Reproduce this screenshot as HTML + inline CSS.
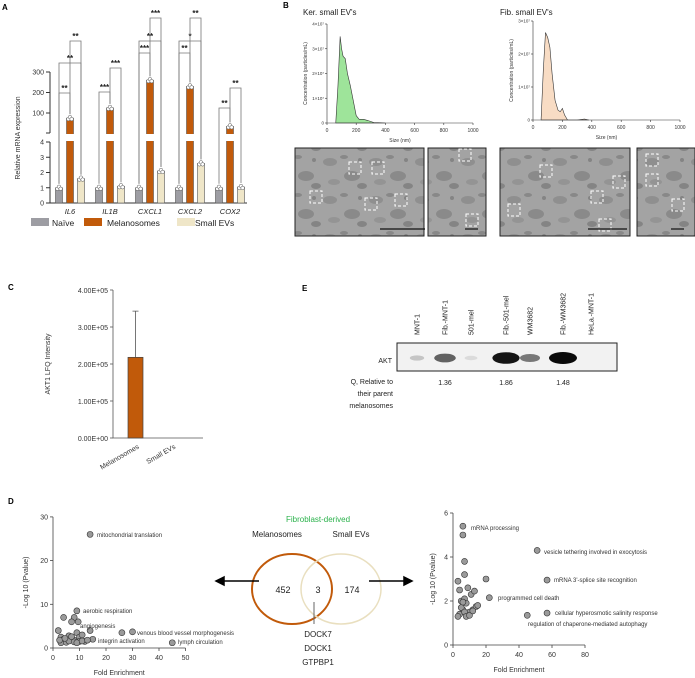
<!DOCTYPE html>
<html><head><meta charset="utf-8"><style>
html,body{margin:0;padding:0;background:#fff}
svg{display:block;font-family:"Liberation Sans",Arial,sans-serif}
</style></head><body>
<svg id="fig" width="695" height="678" viewBox="0 0 695 678" xmlns="http://www.w3.org/2000/svg">
<defs>
<pattern id="em" width="46" height="38" patternUnits="userSpaceOnUse">
<rect width="46" height="38" fill="#a3a3a3"/>
<ellipse cx="8" cy="10" rx="7" ry="4" fill="#7d7d7d" opacity=".55"/><ellipse cx="30" cy="24" rx="8" ry="5" fill="#727272" opacity=".5"/>
<ellipse cx="22" cy="5" rx="4" ry="2" fill="#5e5e5e" opacity=".4"/><ellipse cx="40" cy="34" rx="5" ry="3" fill="#666" opacity=".5"/>
<ellipse cx="12" cy="30" rx="6" ry="3" fill="#8a8a8a" opacity=".6"/><circle cx="38" cy="8" r="2" fill="#555" opacity=".4"/>
</pattern>
</defs>
<g id="gA"></g>
<g id="gB"></g>
<g id="gC"></g>
<g id="gE"></g>
<g id="gD"></g>
</svg>
<script>
// ---------- Panel A data ----------
const genes=["IL6","IL1B","CXCL1","CXCL2","COX2"];
const naiveVals=[1,1,1,1,1];
const melVals=[75,125,260,230,35];
const evVals=[1.6,1.1,2.1,2.6,1.05];
const aTicksLow=[0,1,2,3,4];
const aTicksHigh=[100,200,300];
// ---------- Panel B data ----------
const kerSize=[60,75,90,100,110,125,140,160,180,200,220,250,280,320,400];
const kerConc=[0,1.5,3.5,3.0,2.7,2.6,2.0,1.5,0.9,0.3,0.15,0.15,0.1,0.02,0];
const fibSize=[55,70,85,100,115,130,150,170,185,200,215,235,300,350,380];
const fibConc=[0,1.5,2.65,2.5,2.2,1.4,0.6,0.3,0.25,0.35,0.15,0,0,0.03,0];
const sizeTicks=[0,200,400,600,800,1000];
// ---------- Panel C data ----------
const cCats=["Melanosomes","Small EVs"];
const cVals=[2.18e5,0];
const cErr=[1.25e5,0];
const cTicks=[0,1e5,2e5,3e5,4e5];
const cTickLabels=["0.00E+00","1.00E+05","2.00E+05","3.00E+05","4.00E+05"];
// ---------- Panel E data ----------
const lanes=["MNT-1","Fib.-MNT-1","501-mel","Fib.-501-mel","WM3682","Fib.-WM3682","HeLa.-MNT-1"];
const bandInt=[0.15,0.6,0.05,0.95,0.5,1.0,0];
const qVals=["","1.36","","1.86","","1.48",""];
// ---------- Panel D data ----------
const dlX=[14,9,8,9.5,4,7,14,26,30,45,15,2,3,4,5,6,7,8,9,10,11,12,3,5,6,8,10,2.5,4.5,7,9,11,13];
const dlY=[26,8.5,7,6,7,6,4,3.5,3.7,1.2,2,4,2.5,2,1.5,2.8,2.2,1.8,3.5,2.5,3,1.5,1.2,1.3,1.6,1.4,1.5,1.8,2.2,2.6,1.2,1.6,1.8];
const drX=[6,6,7,7,51,57,20,22,57,45,3,4,5,6,7,8,9,10,11,12,13,14,4,5,6,7,8,10,12,15,3];
const drY=[5.4,5.0,3.8,3.2,4.3,2.95,3.0,2.15,1.45,1.35,2.9,2.5,2.0,1.6,2.1,1.9,2.6,1.5,2.3,1.6,2.45,1.75,1.4,1.7,1.95,1.5,1.3,1.35,1.55,1.8,1.3];
const vennCounts=[452,3,174];
const SVG="http://www.w3.org/2000/svg";
function mk(parent,tag,attrs,txt){const e=document.createElementNS(SVG,tag);for(const k in attrs)e.setAttribute(k,attrs[k]);if(txt!==undefined)e.textContent=txt;parent.appendChild(e);return e;}
const gA=document.getElementById('gA'),gB=document.getElementById('gB'),gC=document.getElementById('gC'),gE=document.getElementById('gE'),gD=document.getElementById('gD');

// ---------- A ----------
let t=mk(gA,'text',{x:2,y:10,'font-size':8,'font-weight':'bold'},'A');

function yA(v){return v<=4?203-v*15.25:113-(v-100)*0.205;}
const groupX=[59,99,139,179,219],off=[0,11,22],bw=7,cols=["#9d9da3","#c15a0a","#efe6c8"];
let ax=mk(gA,'path',{d:'M50,72V133M50,142V203H247',stroke:'#333','stroke-width':1,fill:'none'});

aTicksLow.forEach(v=>{const y=yA(v);mk(gA,'line',{x1:46,x2:50,y1:y,y2:y,stroke:'#333'});
 t=mk(gA,'text',{x:44,y:y+2.5,'font-size':7,'text-anchor':'end',fill:'#333'},v);});
aTicksHigh.forEach(v=>{const y=yA(v);mk(gA,'line',{x1:46,x2:50,y1:y,y2:y,stroke:'#333'});
 t=mk(gA,'text',{x:44,y:y+2.5,'font-size':7,'text-anchor':'end',fill:'#333'},v);});
mk(gA,'line',{x1:46,x2:50,y1:133,y2:133,stroke:'#333'});
t=mk(gA,'text',{x:20,y:138,'font-size':7,'text-anchor':'middle',fill:'#333',transform:'rotate(-90 20 138)'},'Relative mRNA expression');

const series=[naiveVals,melVals,evVals];
const tops=[];
genes.forEach((g,i)=>{
 tops.push([]);
 series.forEach((arr,s)=>{
  const cx=groupX[i]+off[s],y=yA(arr[i]);tops[i].push(y);
  const r=mk(gA,'rect',{x:cx-bw/2,y:y,width:bw,height:203-y,fill:cols[s],stroke:'#555','stroke-width':0.6});
  
  for(let k=-1;k<=1;k++){mk(gA,'circle',{cx:cx+k*1.6,cy:y+(k===0?-1:1),r:1.8,fill:'#fff',stroke:'#555','stroke-width':0.5});}
 });
 t=mk(gA,'text',{x:groupX[i]+11,y:214,'font-size':7.5,'font-style':'italic','text-anchor':'middle',fill:'#222'},g);
 
});
mk(gA,'rect',{x:51,y:134,width:196,height:7,fill:'#fff'});
const brackets=[[0,0,1,93,'**'],[0,0,2,63,'**'],[0,1,2,41,'**'],[1,0,1,92,'***'],[1,1,2,68,'***'],[2,0,1,53,'***'],[2,0,2,41,'**'],[2,1,2,18,'***'],[3,0,1,53,'**'],[3,0,2,41,'*'],[3,1,2,18,'**'],[4,0,1,108,'**'],[4,1,2,88,'**']];
brackets.forEach(b=>{const x1=groupX[b[0]]+off[b[1]],x2=groupX[b[0]]+off[b[2]];
 const y1=tops[b[0]][b[1]]-4,y2=tops[b[0]][b[2]]-4;
 const p=mk(gA,'path',{d:`M${x1},${y1}V${b[3]}H${x2}V${y2}`,stroke:'#777','stroke-width':0.8,fill:'none'});
 
 t=mk(gA,'text',{x:(x1+x2)/2,y:b[3]-2,'font-size':8,'text-anchor':'middle',fill:'#222','font-weight':'bold'},b[4]);
 });
[["Naïve",31,52],["Melanosomes",84,107],["Small EVs",177,195]].forEach((l,i)=>{
 const r=mk(gA,'rect',{x:l[1],y:218,width:18,height:8,fill:cols[i]});
 t=mk(gA,'text',{x:l[2],y:226,'font-size':8.5,fill:'#222'},l[0]);});

// ---------- B ----------
t=mk(gB,'text',{x:283,y:8,'font-size':8,'font-weight':'bold'},'B');
function nta(x0,x1,y0,yPerE7,maxE7,sizes,conc,fill,title,tx){
 const xs=s=>x0+s/1000*(x1-x0),ys=c=>y0-c*yPerE7;
 t=mk(gB,'text',{x:tx,y:15,'font-size':8,fill:'#222'},title);
 let d=`M${xs(sizes[0])},${y0}`;sizes.forEach((s,i)=>d+=`L${xs(s)},${ys(conc[i])}`);d+=`L${xs(sizes[sizes.length-1])},${y0}Z`;
 const p=mk(gB,'path',{d:d,fill:fill,stroke:'#333','stroke-width':0.6});
 mk(gB,'path',{d:`M${x0},${ys(maxE7)}V${y0}H${x1}`,stroke:'#333','stroke-width':0.6,fill:'none'});
 for(let c=0;c<=maxE7;c++){const y=ys(c);mk(gB,'line',{x1:x0-2,x2:x0,y1:y,y2:y,stroke:'#333','stroke-width':0.6});
  t=mk(gB,'text',{x:x0-3,y:y+1.5,'font-size':4.5,'text-anchor':'end',fill:'#333'},c===0?'0':c+'×10⁷');}
 sizeTicks.forEach(s=>{const x=xs(s);mk(gB,'line',{x1:x,x2:x,y1:y0,y2:y0+2,stroke:'#333','stroke-width':0.6});
  t=mk(gB,'text',{x:x,y:y0+9,'font-size':5,'text-anchor':'middle',fill:'#333'},s);});
 t=mk(gB,'text',{x:(x0+x1)/2,y:y0+19,'font-size':5,'text-anchor':'middle',fill:'#333'},'Size (nm)');
 t=mk(gB,'text',{x:x0-20,y:(y0+ys(maxE7))/2,'font-size':5,'text-anchor':'middle',fill:'#333',transform:`rotate(-90 ${x0-20} ${(y0+ys(maxE7))/2})`},'Concentration (particles/mL)');
 
}
nta(327,473,123,24.75,4,kerSize,kerConc,'#9ee49a',"Ker. small EV's",303);
nta(533,680,120,33,3,fibSize,fibConc,'#f8dcc4',"Fib. small EV's",500);
const ems=[[295,148,129,88,[[355,168],[378,168],[316,197],[371,204],[401,200]],[229,380,425]],[428,148,58,88,[[465,155],[472,220]],[229,465,478]],[500,148,130,88,[[546,171],[619,182],[597,197],[514,210],[605,225]],[229,588,627]],[637,148,58,88,[[652,160],[652,180],[678,205]],[229,671,684]]];
ems.forEach(m=>{const r=mk(gB,'rect',{x:m[0],y:m[1],width:m[2],height:m[3],fill:'url(#em)',stroke:'#222','stroke-width':1});
 
 m[4].forEach(p=>{const b=mk(gB,'rect',{x:p[0]-6,y:p[1]-6,width:12,height:12,fill:'none',stroke:'#fff','stroke-width':1,'stroke-dasharray':'3,2'});});
 const sb=mk(gB,'line',{x1:m[5][1],x2:m[5][2],y1:m[5][0],y2:m[5][0],stroke:'#111','stroke-width':1.2});});

// ---------- C ----------
t=mk(gC,'text',{x:8,y:290,'font-size':8,'font-weight':'bold'},'C');
const yC=v=>438-v/1e5*37;
mk(gC,'path',{d:`M113,${yC(4e5)}V438H203`,stroke:'#555','stroke-width':0.8,fill:'none'});
cTicks.forEach((v,i)=>{const y=yC(v);mk(gC,'line',{x1:110,x2:113,y1:y,y2:y,stroke:'#555','stroke-width':0.8});
 t=mk(gC,'text',{x:108,y:y+3,'font-size':7,'text-anchor':'end',fill:'#333'},cTickLabels[i]);});
t=mk(gC,'text',{x:50,y:364,'font-size':7,'text-anchor':'middle',fill:'#333',transform:'rotate(-90 50 364)'},'AKT1 LFQ Intensity');
const cX=[135.5,172];
cCats.forEach((c,i)=>{const y=yC(cVals[i]);
 if(cErr[i]>0){mk(gC,'path',{d:`M${cX[i]},${y}V${yC(cVals[i]+cErr[i])}M${cX[i]-3},${yC(cVals[i]+cErr[i])}H${cX[i]+3}`,stroke:'#555','stroke-width':0.8,fill:'none'});}
 const r=mk(gC,'rect',{x:cX[i]-7.5,y:y,width:15,height:438-y,fill:'#c15a0a',stroke:'#444','stroke-width':0.7});
 t=mk(gC,'text',{x:cX[i]+4,y:448,'font-size':7,'text-anchor':'end',fill:'#333',transform:`rotate(-30 ${cX[i]+4} 448)`},c);});

// ---------- E ----------
t=mk(gE,'text',{x:302,y:291,'font-size':8,'font-weight':'bold'},'E');
const laneX=[417,445,471,506,530,563,591];
lanes.forEach((l,i)=>{t=mk(gE,'text',{x:laneX[i]+2.5,y:335,'font-size':7,'text-anchor':'start',fill:'#222',transform:`rotate(-90 ${laneX[i]+2.5} 335)`},l);
 });
let blot=mk(gE,'rect',{x:397,y:343,width:220,height:28,fill:'#f2f2f2',stroke:'#222','stroke-width':1});
lanes.forEach((l,i)=>{if(bandInt[i]<=0)return;const g=Math.round(230-bandInt[i]*220);
 const e=mk(gE,'ellipse',{cx:laneX[i],cy:358,rx:6+bandInt[i]*8,ry:2+bandInt[i]*4,fill:`rgb(${g},${g},${g})`});
 t=mk(gE,'text',{x:laneX[i],y:385,'font-size':7,'text-anchor':'middle',fill:'#222'},qVals[i]);});
t=mk(gE,'text',{x:392,y:363,'font-size':7,'text-anchor':'end',fill:'#222'},'AKT');
["Q, Relative to","their parent","melanosomes"].forEach((s,i)=>{t=mk(gE,'text',{x:393,y:384+i*12,'font-size':7,'text-anchor':'end',fill:'#222'},s);});

// ---------- D ----------
t=mk(gD,'text',{x:8,y:504,'font-size':8,'font-weight':'bold'},'D');
function scatter(x0,xPer,y0,yPer,xTicks,yTicks,xs,ys,name,labels,yTitleX){
 const X=v=>x0+v*xPer,Y=v=>y0-v*yPer,xmax=X(xTicks[xTicks.length-1]),ytop=Y(yTicks[yTicks.length-1]);
 mk(gD,'path',{d:`M${x0},${ytop}V${y0}H${xmax}`,stroke:'#444','stroke-width':0.8,fill:'none'});
 xTicks.forEach(v=>{mk(gD,'line',{x1:X(v),x2:X(v),y1:y0,y2:y0+3,stroke:'#444','stroke-width':0.8});
  t=mk(gD,'text',{x:X(v),y:y0+12,'font-size':7,'text-anchor':'middle',fill:'#333'},v);});
 yTicks.forEach(v=>{mk(gD,'line',{x1:x0-3,x2:x0,y1:Y(v),y2:Y(v),stroke:'#444','stroke-width':0.8});
  t=mk(gD,'text',{x:x0-5,y:Y(v)+2.5,'font-size':7,'text-anchor':'end',fill:'#333'},v);});
 t=mk(gD,'text',{x:(x0+xmax)/2,y:y0+27,'font-size':7,'text-anchor':'middle',fill:'#333'},'Fold Enrichment');
 const cy=(y0+ytop)/2;t=mk(gD,'text',{x:yTitleX,y:cy,'font-size':7,'text-anchor':'middle',fill:'#333',transform:`rotate(-90 ${yTitleX} ${cy})`},'-Log 10 (Pvalue)');
 xs.forEach((v,i)=>{const c=mk(gD,'circle',{cx:X(v),cy:Y(ys[i]),r:3,fill:'#9a9a9a',stroke:'#333','stroke-width':0.6});});
 labels.forEach(l=>{t=mk(gD,'text',{x:l[1],y:l[2],'font-size':6,fill:'#333'},l[0]);});
}
scatter(53,2.65,648,4.37,[0,10,20,30,40,50],[0,10,20,30],dlX,dlY,'melanosome-go',[["mitochondrial translation",97,537],["aerobic respiration",83,613],["angiogenesis",80,628],["venous blood vessel morphogenesis",137,635],["integrin activation",98,643],["lymph circulation",178,644]],28);
scatter(453,1.65,645,22,[0,20,40,60,80],[0,2,4,6],drX,drY,'small-ev-go',[["mRNA processing",471,530],["vesicle tethering involved in exocytosis",544,554],["mRNA 3'-splice site recognition",554,582],["programmed cell death",498,600],["cellular hyperosmotic salinity response",555,615],["regulation of chaperone-mediated autophagy",528,626]],435);
let c1=mk(gD,'ellipse',{cx:292,cy:589,rx:40,ry:35,fill:'none',stroke:'#c15a0a','stroke-width':2});
let c2=mk(gD,'ellipse',{cx:341,cy:589,rx:40,ry:35,fill:'none',stroke:'#e9dfbf','stroke-width':1.5});
[283,318,352].forEach((x,i)=>{t=mk(gD,'text',{x:x,y:593,'font-size':9,'text-anchor':'middle',fill:'#222'},vennCounts[i]);});
t=mk(gD,'text',{x:318,y:522,'font-size':8,'text-anchor':'middle',fill:'#2bb24c'},'Fibroblast-derived');
t=mk(gD,'text',{x:277,y:537,'font-size':8,'text-anchor':'middle',fill:'#222'},'Melanosomes');
t=mk(gD,'text',{x:351,y:537,'font-size':8,'text-anchor':'middle',fill:'#222'},'Small EVs');
mk(gD,'line',{x1:314,x2:314,y1:602,y2:624,stroke:'#666','stroke-width':1});
["DOCK7","DOCK1","GTPBP1"].forEach((s,i)=>{t=mk(gD,'text',{x:318,y:637+i*14,'font-size':8,'text-anchor':'middle',fill:'#222'},s);});
let a1=mk(gD,'path',{d:'M259,581H224M224,577L216,581L224,585Z',stroke:'#000','stroke-width':1.5,fill:'#000'});
let a2=mk(gD,'path',{d:'M369,581H404M404,577L412,581L404,585Z',stroke:'#000','stroke-width':1.5,fill:'#000'});
</script>
</body></html>
